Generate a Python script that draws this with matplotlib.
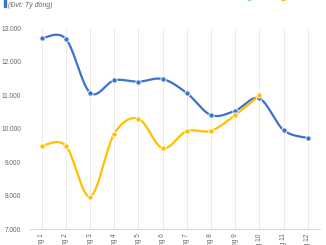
import matplotlib
matplotlib.use('Agg')
import matplotlib.pyplot as plt
import numpy as np
from matplotlib.patches import Rectangle

plt.rcParams['font.family'] = ['Liberation Sans', 'DejaVu Sans']

months = ['Tháng 1', 'Tháng 2', 'Tháng 3', 'Tháng 4', 'Tháng 5', 'Tháng 6',
          'Tháng 7', 'Tháng 8', 'Tháng 9', 'Tháng 10', 'Tháng 11', 'Tháng 12']
v2022 = [12710, 12690, 11080, 11450, 11410, 11490, 11070, 10410, 10540, 10910, 9960, 9725]
v2023 = [9490, 9490, 7970, 9850, 10300, 9420, 9930, 9940, 10410, 11000]
yticks = [7000, 8000, 9000, 10000, 11000, 12000, 13000]
ytick_labels = ['7.000', '8.000', '9.000', '10.000', '11.000', '12.000', '13.000']

c22 = '#3B73CC'
c23 = '#FFC000'


def smooth(x, y, n=20):
    # catmull-rom style smoothing like excel's smoothed line
    x = np.asarray(x, float)
    y = np.asarray(y, float)
    px = np.concatenate([[x[0]], x, [x[-1]]])
    py = np.concatenate([[y[0]], y, [y[-1]]])
    xs, ys = [], []
    t = np.linspace(0, 1, n)
    for i in range(1, len(px) - 2):
        p0, p1, p2, p3 = (np.array([px[j], py[j]]) for j in (i - 1, i, i + 1, i + 2))
        b1 = p1 + (p2 - p0) / 6
        b2 = p2 - (p3 - p1) / 6
        pts = ((1 - t) ** 3)[:, None] * p1 + (3 * (1 - t) ** 2 * t)[:, None] * b1 \
            + (3 * (1 - t) * t ** 2)[:, None] * b2 + (t ** 3)[:, None] * p2
        xs.extend(pts[:, 0])
        ys.extend(pts[:, 1])
    return xs, ys


fig = plt.figure(figsize=(3.26, 2.45), dpi=100)
ax = fig.add_axes([0.0908, 0.0653, 0.981 - 0.0908, 0.8833 - 0.0653])

x22 = np.arange(len(v2022))
x23 = np.arange(len(v2023))
for xx, vv, col in [(x22, v2022, c22), (x23, v2023, c23)]:
    sx, sy = smooth(xx, vv)
    ax.plot(sx, sy, color=col, lw=1.6, solid_capstyle='round', zorder=3)
    ax.plot(xx, vv, 'o', color=col, ms=3.8, mec='white', mew=0.6, zorder=4)

ax.set_xlim(-0.5, 11.5)
ax.set_ylim(7000, 13000)
ax.set_yticks(yticks)
ax.set_yticklabels(ytick_labels)
ax.set_xticks(x22)
ax.set_xticklabels(months, rotation=90, va='top', ha='center')
ax.tick_params(axis='both', length=0, labelsize=4.7, labelcolor='#666666')
ax.tick_params(axis='y', pad=6)
ax.tick_params(axis='x', pad=3)
ax.grid(axis='x', color='#EBEBEB', lw=0.7)
for s in ['top', 'right', 'left']:
    ax.spines[s].set_visible(False)
ax.spines['bottom'].set_color('#D9D9D9')
ax.spines['bottom'].set_linewidth(0.7)

# title bits at the top
fig.patches.append(Rectangle((4 / 326, 1 - 7.5 / 245), 2 / 326, 7.5 / 245,
                             transform=fig.transFigure, color=c22))
fig.text(8 / 326, 1 - 4.5 / 245, '(Đvt: Tỷ đồng)', fontsize=5, style='italic',
         color='#666666', va='center', ha='left')

# legend (cut off at top edge)
ly = 1 + 2 / 245
fig.lines.append(plt.Line2D([249 / 326], [ly], marker='o', color='#8FD3E8', ms=3,
                            transform=fig.transFigure))
fig.text(256 / 326, ly, '2022', fontsize=5, color='#595959', va='center')
fig.lines.append(plt.Line2D([283 / 326], [ly], marker='o', color=c23, ms=3,
                            transform=fig.transFigure))
fig.text(290 / 326, ly, '2023', fontsize=5, color='#595959', va='center')

fig.savefig('out.png', dpi=100)
